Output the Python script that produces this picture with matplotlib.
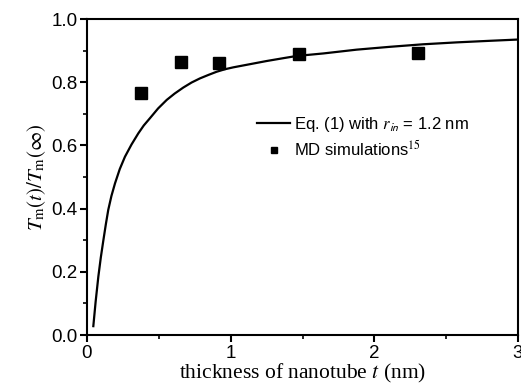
import matplotlib
matplotlib.use("Agg")
import matplotlib.pyplot as plt
from matplotlib.ticker import MultipleLocator

# Eq. (1) curve
curve_t = [0.044, 0.060, 0.079, 0.096, 0.114, 0.131, 0.148, 0.170, 0.195, 0.228,
           0.264, 0.310, 0.357, 0.395, 0.438, 0.495, 0.555, 0.610, 0.670, 0.728,
           0.786, 0.845, 0.902, 0.960, 1.018, 1.076, 1.134, 1.25, 1.366, 1.459,
           1.645, 1.877, 2.109, 2.34, 2.572, 2.804, 3.0]
curve_y = [0.028, 0.105, 0.185, 0.245, 0.300, 0.350, 0.396, 0.440, 0.480, 0.525,
           0.564, 0.603, 0.638, 0.663, 0.686, 0.717, 0.744, 0.764, 0.783, 0.799,
           0.812, 0.823, 0.833, 0.841, 0.847, 0.852, 0.857, 0.867, 0.876, 0.883,
           0.891, 0.903, 0.912, 0.920, 0.926, 0.931, 0.935]

# MD simulation points
md_t = [0.374, 0.652, 0.921, 1.478, 2.303]
md_y = [0.765, 0.863, 0.862, 0.889, 0.891]

plt.rcParams['mathtext.fontset'] = 'stix'
plt.rcParams['font.family'] = ['Liberation Sans', 'DejaVu Sans']

fig = plt.figure(figsize=(5.21, 3.87), dpi=100)
ax = fig.add_axes([87/521, 1-335/387, 431/521, 316/387])

ax.plot(curve_t, curve_y, color='black', lw=1.6, solid_joinstyle='round',
        label=r'Eq. (1) with $\mathit{r}_{\mathsf{in}}$ = 1.2 nm')
ax.plot(md_t, md_y, 's', color='black', ms=8, mec='black', ls='none',
        label=r'MD simulations$^{15}$')

ax.set_xlim(0, 3)
ax.set_ylim(0, 1.0)
ax.xaxis.set_minor_locator(MultipleLocator(0.5))
ax.yaxis.set_minor_locator(MultipleLocator(0.1))
ax.set_yticks([0, 0.2, 0.4, 0.6, 0.8, 1.0])
ax.set_yticklabels(['0.0', '0.2', '0.4', '0.6', '0.8', '1.0'])
ax.set_xticks([0, 1, 2, 3])
ax.set_xticklabels(['0', '1', '2', '3'])

ax.tick_params(which='major', direction='out', length=5, width=1.5,
               labelsize=13.5, pad=2, top=False, right=False)
ax.tick_params(which='minor', direction='out', length=3, width=1.2,
               top=False, right=False)
for s in ax.spines.values():
    s.set_linewidth(1.5)

ax.set_xlabel(r'thickness of nanotube $\mathit{t}$ (nm)', fontsize=15.5,
              family='Liberation Serif', labelpad=0)
ax.set_ylabel(r'$T_{\mathrm{m}}(t)/T_{\mathrm{m}}(\infty)$', fontsize=15, labelpad=2)

leg = ax.legend(loc='upper left', bbox_to_anchor=(0.36, 0.745), frameon=False,
                fontsize=12, handlelength=2.0, handletextpad=0.2,
                markerscale=0.55, labelspacing=0.3)

fig.savefig('out.png', dpi=100)
